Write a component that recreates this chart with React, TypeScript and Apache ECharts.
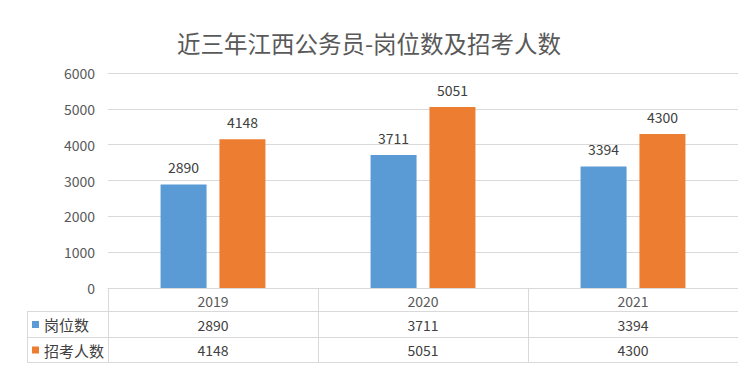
import React, { useEffect, useRef } from "react";
import * as echarts from "echarts";

const title = "近三年江西公务员-岗位数及招考人数";
const categories = ["2019", "2020", "2021"];
const seriesNames = ["岗位数", "招考人数"];
const posts = [2890, 3711, 3394];
const applicants = [4148, 5051, 4300];
const colors = ["#5B9BD5", "#ED7D31"];

const FONT = "'Noto Sans CJK SC', 'Noto Sans', sans-serif";

export default function App() {
  const ref = useRef<HTMLDivElement>(null);
  useEffect(() => {
    if (!ref.current) return;
    const chart = echarts.init(ref.current, null, { renderer: "svg" });
    const W = 738;
    const gridLeft = 108;
    const gridTop = 73;
    const gridBottomY = 288;
    const rowLines = [311.5, 337.5, 362.5];
    const tableLeft = 27;
    const allSeries = [posts, applicants];

    chart.setOption({
      animation: false,
      backgroundColor: "#ffffff",
      textStyle: { fontFamily: FONT },
      title: {
        text: title,
        left: "center",
        top: 26,
        textStyle: { fontSize: 23.5, fontWeight: "normal", color: "#595959", fontFamily: FONT },
      },
      grid: { left: gridLeft, right: 0, top: gridTop, bottom: 365 - gridBottomY },
      xAxis: {
        type: "category",
        data: categories,
        axisLine: { show: true, lineStyle: { color: "#d9d9d9", width: 1 } },
        axisTick: { show: true, length: 75, interval: 0, lineStyle: { color: "#d9d9d9" } },
        axisLabel: { color: "#595959", fontSize: 14, margin: 6, fontFamily: FONT },
      },
      yAxis: {
        type: "value",
        min: 0,
        max: 6000,
        interval: 1000,
        axisLine: { show: false },
        axisTick: { show: false },
        splitLine: { lineStyle: { color: "#d9d9d9", width: 1 } },
        axisLabel: {
          color: "#595959",
          fontSize: 14,
          margin: 13,
          fontFamily: FONT,
          formatter: (v: number) => String(v),
        },
      },
      series: seriesNames.map((name, i) => ({
        name,
        type: "bar",
        data: allSeries[i],
        barWidth: 46,
        barGap: "28%",
        itemStyle: { color: colors[i] },
        label: {
          show: true,
          position: "top",
          distance: 10,
          color: "#404040",
          fontSize: 14,
          fontFamily: FONT,
        },
      })),
    });

    const xs = categories.map((c) => chart.convertToPixel({ xAxisIndex: 0 }, c) as number);
    const graphics: any[] = [];
    const lineStyle = { stroke: "#d9d9d9", lineWidth: 1 };
    rowLines.forEach((y) => {
      graphics.push({
        type: "line",
        shape: { x1: tableLeft, y1: y, x2: W, y2: y },
        style: lineStyle,
        silent: true,
      });
    });
    graphics.push({
      type: "line",
      shape: { x1: tableLeft + 0.5, y1: rowLines[0], x2: tableLeft + 0.5, y2: rowLines[2] },
      style: lineStyle,
    });
    seriesNames.forEach((name, i) => {
      const cy = (rowLines[i] + rowLines[i + 1]) / 2;
      graphics.push({
        type: "rect",
        shape: { x: 32, y: cy - 3.5, width: 7, height: 7 },
        style: { fill: colors[i] },
      });
      graphics.push({
        type: "text",
        x: 44,
        y: cy,
        style: {
          text: name,
          fill: "#404040",
          fontSize: 15,
          fontFamily: FONT,
          verticalAlign: "middle",
          align: "left",
        },
      });
      allSeries[i].forEach((v, j) => {
        graphics.push({
          type: "text",
          x: xs[j],
          y: cy,
          style: {
            text: String(v),
            fill: "#404040",
            fontSize: 14,
            fontFamily: FONT,
            verticalAlign: "middle",
            align: "center",
          },
        });
      });
    });
    chart.setOption({ graphic: graphics });

    return () => chart.dispose();
  }, []);
  return (
    <div
      ref={ref}
      style={{ position: "fixed", left: 0, top: 0, width: 738, height: 365 }}
    />
  );
}
